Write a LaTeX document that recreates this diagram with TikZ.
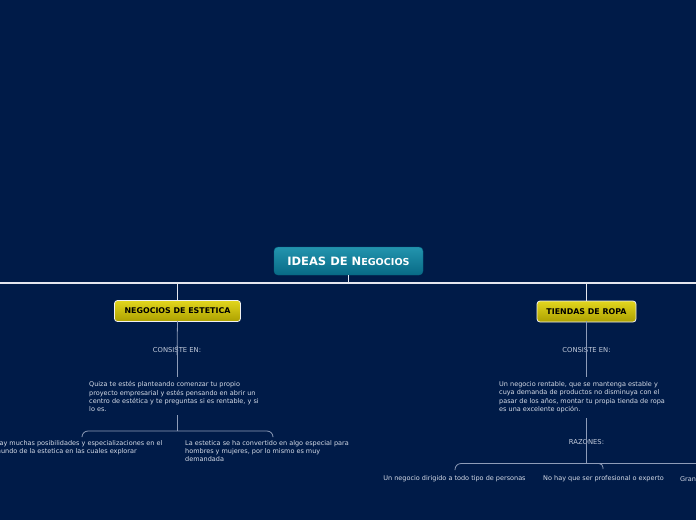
\documentclass[tikz,border=0pt]{standalone}
\usepackage{fontspec}
\setmainfont{DejaVu Sans}
\usetikzlibrary{calc}
\definecolor{bg}{HTML}{001B48}
\definecolor{rootTop}{HTML}{2394AE}
\definecolor{rootBot}{HTML}{086A86}
\definecolor{yTop}{HTML}{E2D61E}
\definecolor{yBot}{HTML}{ACA000}
\definecolor{txtc}{HTML}{D6DCE8}
\definecolor{lblc}{HTML}{C4CCDC}
\definecolor{connc}{HTML}{8E9CB8}
\definecolor{mainc}{HTML}{E4E6EE}
\tikzset{
 rootbox/.style={rounded corners=4pt, top color=rootTop, bottom color=rootBot, draw=rootBot, minimum width=149pt, minimum height=28pt, inner sep=0pt, text=white, font=\fontsize{11.5}{13}\selectfont\bfseries},
 ybox/.style={rounded corners=3pt, top color=yTop, bottom color=yBot, draw=white!88!gray, line width=0.8pt, minimum height=21pt, inner sep=0pt, text=black, font=\fontsize{7.9}{9}\selectfont\bfseries},
 lbl/.style={inner sep=0pt, text=lblc, font=\fontsize{6.8}{8}\selectfont},
 txt/.style={inner sep=0pt, text=txtc, align=left, font=\fontsize{6.5}{8.2}\selectfont},
 conn/.style={draw=connc, line width=0.8pt},
 mainline/.style={draw=mainc, line width=1.2pt},
}
\begin{document}
\begin{tikzpicture}[x=1pt,y=-1pt]
\fill[bg] (0,0) rectangle (696,520);
\useasboundingbox (0,0) rectangle (696,520);
\clip (0,0) rectangle (696,520);

% root and main line
\node[rootbox] (root) at (348.5,261) {IDEAS DE N{\fontsize{9.6}{11}\selectfont EGOCIOS}};
\coordinate (hl) at (-10,283);
\coordinate (hr) at (710,283);
\draw[mainline] (hl) -- (hr);
\draw[mainline] (root.south) -- (root.south |- hl);

% left branch
\node[ybox, minimum width=126pt] (n1) at (177.5,311) {NEGOCIOS DE ESTETICA};
\draw[mainline] (n1.north |- hl) -- (n1.north);
\node[lbl] (c1) at (177,350) {CONSISTE EN:};
\draw[conn] ([yshift=1pt]n1.south) -- ([yshift=-8pt]c1.north);
\node[txt, anchor=north west] (q1) at (89,381.5) {Quiza te estés planteando comenzar tu propio\\proyecto empresarial y estés pensando en abrir un\\centro de estética y te preguntas si es rentable, y si\\lo es.};
\draw[conn] ([yshift=7pt]c1.south) -- (177,377);
\coordinate (b1) at (177,431);
\draw[conn] (177,415) -- (b1);
\node[txt, anchor=north west] (h1) at (-5.5,440) {Hay muchas posibilidades y especializaciones en el\\mundo de la estetica en las cuales explorar};
\node[txt, anchor=north west] (h2) at (185,440) {La estetica se ha convertido en algo especial para\\hombres y mujeres, por lo mismo es muy\\demandada};
\coordinate (e1) at (82,436);
\coordinate (e2) at (273,436);
\draw[conn, rounded corners=6pt] (e1) |- (b1) -| (e2);

% right branch
\node[ybox, minimum width=99pt] (n2) at (586.5,311.5) {TIENDAS DE ROPA};
\draw[mainline] (n2.north |- hl) -- (n2.north);
\node[lbl] (c2) at (586.5,350) {CONSISTE EN:};
\draw[conn] ([yshift=1pt]n2.south) -- ([yshift=-8pt]c2.north);
\node[txt, anchor=north west] (t2) at (499,381.5) {Un negocio rentable, que se mantenga estable y\\cuya demanda de productos no disminuya con el\\pasar de los años, montar tu propia tienda de ropa\\es una excelente opción.};
\draw[conn] ([yshift=7pt]c2.south) -- (586.5,377);
\node[lbl] (rz) at (586.5,442.5) {RAZONES:};
\draw[conn] (586.5,418) -- ([yshift=-4pt]rz.north);
\coordinate (b2) at (586.5,463.5);
\draw[conn] ([yshift=5pt]rz.south) -- (b2);
\node[txt, anchor=center] (r1) at (454.5,479) {Un negocio dirigido a todo tipo de personas};
\node[txt, anchor=center] (r2) at (603.5,479) {No hay que ser profesional o experto};
\node[txt, anchor=west] (r3) at (680,479) {Gran};
\coordinate (e3) at (455,470);
\coordinate (e4) at (603,469);
\coordinate (e5) at (710,463.5);
\draw[conn, rounded corners=6pt] (e3) |- (b2) -- (e5);
\draw[conn, rounded corners=4pt] (596,463.5) -| (e4);
\end{tikzpicture}
\end{document}
